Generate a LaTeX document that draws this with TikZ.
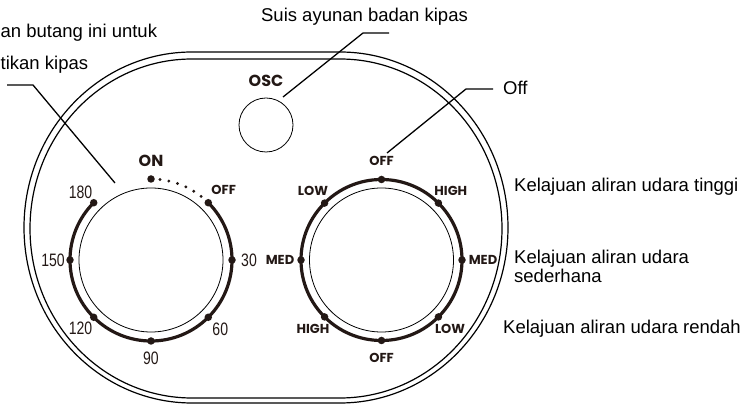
\documentclass[tikz,border=0pt]{standalone}
\usepackage{fontspec}
\setmainfont{Liberation Sans}
\newfontfamily\dialfont{Poppins}
\newfontfamily\numfont[FakeStretch=0.78]{Liberation Sans}
\definecolor{knob}{RGB}{35,24,21}

\tikzset{
  callout/.style={font=\fontsize{18.5}{17}\selectfont, inner sep=0pt, align=left},
  leader/.style={line width=1.3pt},
  shell/.style={line width=1.2pt},
  dialtxt/.style={font=\dialfont\bfseries\fontsize{13}{13}\selectfont, inner sep=0pt, text=knob},
  numtxt/.style={font=\numfont\fontsize{18}{18}\selectfont, inner sep=0pt, text=knob},
  knobdot/.style={circle, fill=knob, inner sep=0pt, minimum size=7.5pt},
}

\begin{document}
\begin{tikzpicture}[x=1pt,y=1pt]
  \useasboundingbox (0,0) rectangle (753,407);

  % body outline
  \draw[shell] (192,355) -- (340,355) arc[start angle=90,end angle=-90,x radius=168,y radius=175.5]
    -- (192,4) arc[start angle=270,end angle=90,x radius=168,y radius=175.5] -- cycle;
  \draw[shell] (192,348) -- (340,348) arc[start angle=90,end angle=-90,x radius=162,y radius=169.5]
    -- (192,9) arc[start angle=270,end angle=90,x radius=162,y radius=169.5] -- cycle;

  % oscillation button
  \node[circle, draw, line width=0.8pt, minimum size=54pt, inner sep=0pt] (osc) at (266,282) {};
  \node[dialtxt, font=\dialfont\bfseries\fontsize{16}{16}\selectfont] (osclabel) at (266,326) {OSC};

  % timer dial
  \begin{scope}[shift={(151,147)}]
    \draw[line width=0.8pt] (0,0) circle (72);
    \draw[knob, line width=3.2pt] (45:81) arc[start angle=45, end angle=-225, radius=81];
    \draw[knob, line width=3.2pt, line cap=round, dash pattern=on 0pt off 9pt]
      (90:81) arc[start angle=90, end angle=45, radius=81];
    \foreach \a [count=\i] in {90,45,0,-45,-90,-135,180,135}
      \node[knobdot] (tdot\i) at (\a:81) {};
    \node[dialtxt, font=\dialfont\bfseries\fontsize{16}{16}\selectfont] (on) at (90:99) {ON};
    \node[dialtxt] (toff) at (44:101) {OFF};
    \foreach \a/\t in {0/30,-45/60,-90/90,-136/120,180/150,136/180}
      \node[numtxt] (t\t) at (\a:98) {\t};
  \end{scope}

  % speed dial
  \begin{scope}[shift={(381.5,147)}]
    \draw[line width=0.8pt] (0,0) circle (72);
    \draw[knob, line width=3.2pt] (0,0) circle (80.5);
    \foreach \a [count=\i] in {90,45,0,-45,-90,-135,180,135}
      \node[knobdot] (sdot\i) at (\a:80.5) {};
    \foreach \a/\t/\r [count=\i] in {90/OFF/99.5,45/HIGH/98,0/MED/101.5,-45/LOW/97,
        -90/OFF/98,-135/HIGH/97,180/MED/101.5,135/LOW/97}
      \node[dialtxt] (s\i) at (\a:\r) {\t};
  \end{scope}

  % callouts
  \node[callout] (swing) at (364.5,390) {Suis ayunan badan kipas};
  \coordinate (swingtip) at (283,310);
  \coordinate (swingend) at (389,374);
  \draw[leader] (swingtip) -- (363,374) -- (swingend);

  \node[callout, anchor=west] (offtxt) at (503,319) {Off};
  \coordinate (offtip) at (387,254);
  \coordinate (offend) at (493,318);
  \draw[leader] (offtip) -- (466,318) -- (offend);

  \node[callout, anchor=west] (powa) at (0.5,374) {an butang ini untuk};
  \node[callout, anchor=west] (powb) at (0.5,342) {tikan kipas};
  \coordinate (powtip) at (115,224);
  \coordinate (powend) at (7,322);
  \draw[leader] (powtip) -- (33,322) -- (powend);

  \node[callout, anchor=west] (high) at (514,220) {Kelajuan aliran udara tinggi};
  \node[callout, anchor=west] (med) at (514,140.5) {Kelajuan aliran udara\\sederhana};
  \node[callout, anchor=west] (low) at (503,78) {Kelajuan aliran udara rendah};
\end{tikzpicture}
\end{document}
